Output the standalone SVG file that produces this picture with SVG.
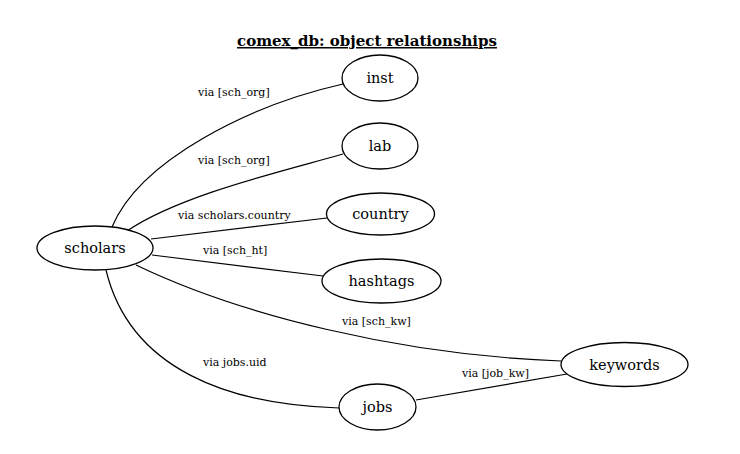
<svg xmlns="http://www.w3.org/2000/svg" width="740" height="454" viewBox="0 0 740 454">
<style>
.n ellipse{fill:#fff;stroke:#000;stroke-width:1.3}
.n text{font-family:"DejaVu Serif",serif;font-size:14.5px;text-anchor:middle;fill:#000}
.e path{fill:none;stroke:#000;stroke-width:1.2}
.l{font-family:"DejaVu Serif",serif;font-size:11px;fill:#000}
.t{font-family:"DejaVu Serif",serif;font-size:15px;font-weight:bold;text-anchor:middle;text-decoration:underline}
</style>
<rect width="740" height="454" fill="#fff"/>
<text class="t" x="367" y="46">comex_db: object relationships</text>
<g class="e" id="edges">
<path d="M112,227 C140,160 250,105 343,84"/>
<path d="M127,231 C180,195 280,172 343,154"/>
<path d="M151,239 L327,218"/>
<path d="M152,255 L323,276"/>
<path d="M136,265 C240,315 400,355 561,361"/>
<path d="M106,270 C130,370 230,405 339,408"/>
<path d="M416,400 L567,374"/>
<text class="l" x="198" y="96">via [sch_org]</text>
<text class="l" x="198" y="164">via [sch_org]</text>
<text class="l" x="178" y="219">via scholars.country</text>
<text class="l" x="203" y="254">via [sch_ht]</text>
<text class="l" x="342" y="325">via [sch_kw]</text>
<text class="l" x="203" y="366">via jobs.uid</text>
<text class="l" x="462" y="377">via [job_kw]</text>
</g>
<g class="n" id="scholars"><ellipse cx="95" cy="248" rx="58" ry="22"/><text x="95" y="253">scholars</text></g>
<g class="n" id="inst"><ellipse cx="380" cy="78" rx="38" ry="23"/><text x="380" y="83">inst</text></g>
<g class="n" id="lab"><ellipse cx="380" cy="146" rx="38" ry="23"/><text x="380" y="151">lab</text></g>
<g class="n" id="country"><ellipse cx="380.5" cy="214" rx="54" ry="21"/><text x="380.5" y="219">country</text></g>
<g class="n" id="hashtags"><ellipse cx="381.5" cy="281" rx="59.5" ry="22"/><text x="381.5" y="286">hashtags</text></g>
<g class="n" id="keywords"><ellipse cx="624.5" cy="364.5" rx="63.5" ry="22"/><text x="624.5" y="369.5">keywords</text></g>
<g class="n" id="jobs"><ellipse cx="377.5" cy="407" rx="38.5" ry="23"/><text x="377.5" y="412">jobs</text></g>
</svg>
